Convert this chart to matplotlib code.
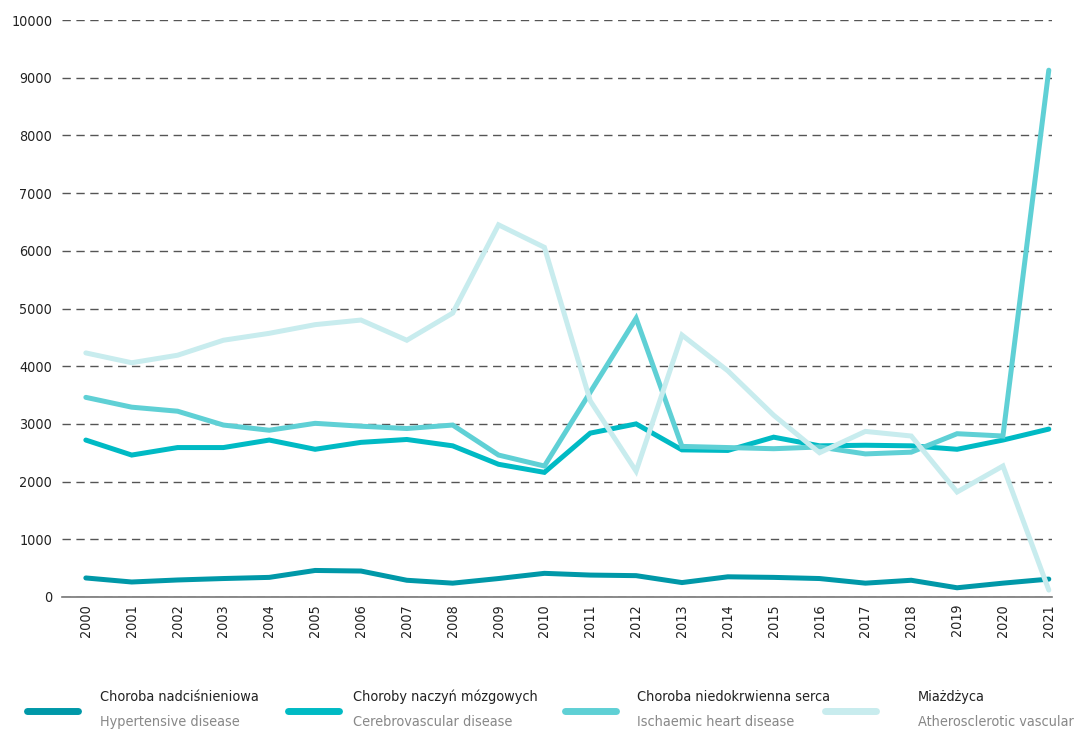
import matplotlib
matplotlib.use('Agg')
import matplotlib.pyplot as plt
from matplotlib.lines import Line2D

plt.rcParams['font.family'] = ['DejaVu Sans']
plt.rcParams['font.stretch'] = 'condensed'

# Dane
years = list(range(2000, 2022))
hypertensive = [330, 260, 295, 320, 340, 460, 450, 290, 240, 320, 410,
                380, 370, 250, 350, 340, 320, 240, 290, 160, 240, 310]
cerebrovascular = [2720, 2460, 2590, 2590, 2720, 2560, 2680, 2730, 2620, 2300, 2160,
                   2840, 3000, 2550, 2540, 2770, 2620, 2630, 2620, 2560, 2720, 2910]
ischaemic = [3460, 3290, 3220, 2980, 2890, 3010, 2960, 2920, 2980, 2460, 2270,
             3550, 4830, 2610, 2590, 2570, 2600, 2480, 2510, 2830, 2790, 9130]
atherosclerotic = [4230, 4060, 4190, 4450, 4570, 4720, 4800, 4450, 4920, 6450, 6060,
                   3400, 2180, 4540, 3920, 3150, 2500, 2870, 2790, 1820, 2270, 120]

labels_pl = ['Choroba nadciśnieniowa', 'Choroby naczyń mózgowych',
             'Choroba niedokrwienna serca', 'Miażdżyca']
labels_en = ['Hypertensive disease', 'Cerebrovascular disease',
             'Ischaemic heart disease', 'Atherosclerotic vascular']
COLORS = ['#0098a8', '#00bac4', '#5fd0d5', '#c8ecee']

series = [hypertensive, cerebrovascular, ischaemic, atherosclerotic]

fig = plt.figure(figsize=(10.81, 7.34), dpi=100)
ax = fig.add_axes([62 / 1081, 1 - 597 / 734, (1052 - 62) / 1081, (597 - 20) / 734])

for vals, c in zip(series, COLORS):
    ax.plot(years, vals, color=c, linewidth=3.6, solid_capstyle='round',
            solid_joinstyle='miter', zorder=3)

ax.set_ylim(0, 10000)
ax.set_xlim(1999.48, 2021.07)
ax.set_yticks(range(0, 10001, 1000))
ax.set_xticks(years)
ax.set_xticklabels([str(y) for y in years], rotation=90, fontsize=10.3)
ax.tick_params(axis='y', labelsize=10.3, length=0, pad=7, labelcolor='#222222')
ax.tick_params(axis='x', length=0, pad=5, labelcolor='#222222')
ax.yaxis.grid(True, color='#555555', linestyle=(0, (6, 4)), linewidth=1)
ax.set_axisbelow(True)
for s in ['top', 'right', 'left']:
    ax.spines[s].set_visible(False)
ax.spines['bottom'].set_color('#777777')
ax.spines['bottom'].set_linewidth(1.2)

# Legenda ręczna
handle_x = [27, 288, 565, 825]
text_x = [100, 353, 637, 918]
for hx, tx, c, pl, en in zip(handle_x, text_x, COLORS, labels_pl, labels_en):
    fig.add_artist(Line2D([hx / 1081, (hx + 51) / 1081], [1 - 711 / 734] * 2,
                          color=c, linewidth=5, solid_capstyle='round'))
    fig.text(tx / 1081, 1 - 697 / 734, pl, fontsize=10.4, color='#222222', va='center')
    fig.text(tx / 1081, 1 - 722 / 734, en, fontsize=10.4, color='#888888', va='center')

fig.savefig('out.png', dpi=100, facecolor='white')
